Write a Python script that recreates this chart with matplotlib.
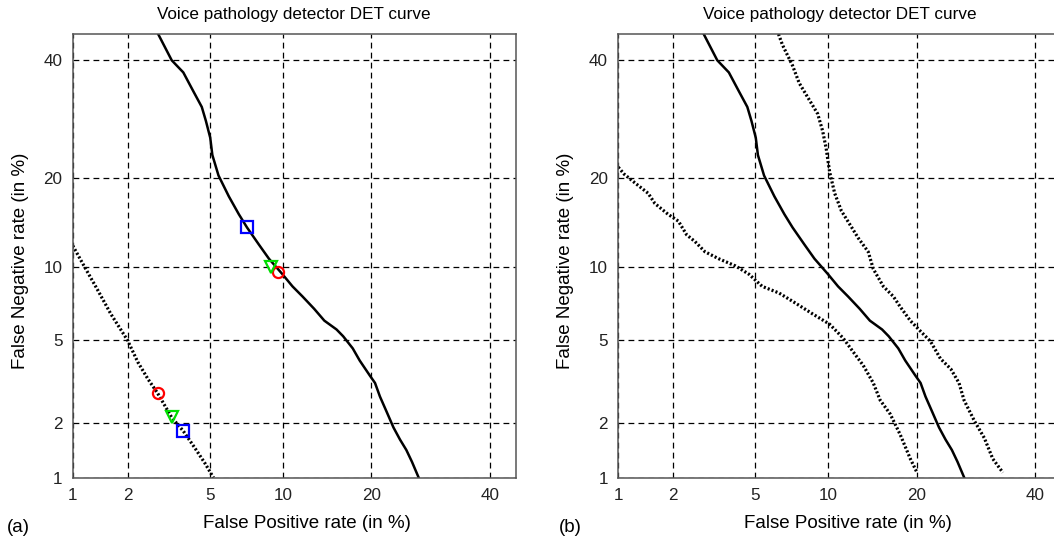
import matplotlib
matplotlib.use('Agg')
import matplotlib.pyplot as plt
import numpy as np
from statistics import NormalDist

plt.rcParams['font.family'] = ['Liberation Sans', 'DejaVu Sans']
plt.rcParams['lines.scale_dashes'] = False

# DET curve data (false positive %, false negative %)
main_fp = [2.86, 3.33, 3.78, 4.21, 4.60, 4.80, 5.02, 5.13, 5.46, 6.05, 6.67, 7.21,
           8.06, 8.83, 9.96, 10.86, 11.82, 13.0, 14.1, 15.5, 16.3, 17.5, 18.4, 19.8,
           20.5, 21.2, 22.2, 23.2, 24.2, 25.2, 26.1, 27.2]
main_fn = [45.0, 39.9, 37.6, 34.1, 31.3, 28.9, 26.1, 23.4, 20.4, 17.6, 15.4, 13.9,
           12.1, 10.75, 9.39, 8.42, 7.67, 6.83, 6.09, 5.58, 5.21, 4.60, 4.05, 3.43,
           3.17, 2.72, 2.27, 1.89, 1.63, 1.43, 1.23, 1.0]

fused_fp = [1.0, 1.16, 1.38, 1.63, 2.0, 2.26, 2.55, 2.84, 3.33, 3.78, 4.29, 4.77, 5.19]
fused_fn = [12.0, 10.1, 8.16, 6.50, 5.0, 3.98, 3.30, 2.83, 2.13, 1.81, 1.46, 1.20, 1.0]

# operating points: circle, triangle, square
main_pts_fp = [9.61, 8.96, 7.21]
main_pts_fn = [9.59, 10.04, 13.9]
fused_pts_fp = [2.84, 3.33, 3.78]
fused_pts_fn = [2.83, 2.15, 1.81]

upper_fp = [6.30, 6.55, 7.21, 7.68, 8.44, 9.09, 9.50, 9.80, 10.1, 10.55, 11.17, 11.98,
            12.84, 13.92, 14.48, 15.65, 16.88, 17.75, 19.08, 20.47, 21.92, 23.42,
            25.02, 26.34, 27.16, 28.88, 30.61, 32.09, 33.91]
upper_fn = [45.0, 42.86, 38.9, 35.6, 32.5, 30.1, 27.2, 24.4, 20.9, 18.0, 15.8, 14.25,
            12.78, 11.39, 9.84, 8.42, 7.67, 6.96, 6.09, 5.49, 4.95, 4.13, 3.70, 3.17,
            2.61, 2.05, 1.66, 1.28, 1.07]

lower_fp = [1.0, 1.08, 1.24, 1.47, 1.60, 1.88, 2.13, 2.35, 2.59, 2.90, 3.38, 4.06,
            4.68, 5.36, 6.34, 7.45, 8.69, 10.1, 11.33, 12.32, 13.38, 14.48, 15.27,
            16.48, 17.75, 19.08, 20.0]
lower_fn = [21.6, 20.6, 19.4, 18.0, 16.7, 15.4, 14.6, 13.1, 12.4, 11.4, 10.75, 10.1,
            9.39, 8.42, 7.92, 7.19, 6.50, 5.88, 5.12, 4.44, 3.84, 3.17, 2.61, 2.22,
            1.73, 1.28, 1.07]

tick_vals = [1, 2, 5, 10, 20, 40]
tick_labels = ['1', '2', '5', '10', '20', '40']

nd = NormalDist()
_ppf = np.vectorize(nd.inv_cdf, otypes=[float])
_cdf = np.vectorize(nd.cdf, otypes=[float])


def probit(p):
    p = np.clip(np.asarray(p, dtype=float) / 100.0, 1e-9, 1 - 1e-9)
    return _ppf(p)


def inv_probit(z):
    return _cdf(np.asarray(z, dtype=float)) * 100.0


def setup_axes(ax, xlab_x):
    ax.set_xscale('function', functions=(probit, inv_probit))
    ax.set_yscale('function', functions=(probit, inv_probit))
    ax.set_xlim(1, 45)
    ax.set_ylim(1, 45)
    ax.set_xticks(tick_vals)
    ax.set_xticklabels(tick_labels)
    ax.set_yticks(tick_vals)
    ax.set_yticklabels(tick_labels)
    ax.minorticks_off()
    ax.tick_params(length=0, labelsize=12.3, pad=7.5, colors='#222222')
    ax.grid(True, color='black', linestyle=(0, (4.2, 3.0)), linewidth=0.9)
    for s in ax.spines.values():
        s.set_color('#555555')
        s.set_linewidth(1.1)
        s.set_zorder(5)
    ax.set_title('Voice pathology detector DET curve', fontsize=12.3, pad=11)
    ax.set_xlabel('False Positive rate (in %)', fontsize=13.5)
    ax.set_ylabel('False Negative rate (in %)', fontsize=13.5)
    ax.xaxis.set_label_coords(xlab_x, -0.083)
    ax.yaxis.set_label_coords(-0.099, 0.49)


fig = plt.figure(figsize=(10.54, 5.42), dpi=100)
ax1 = fig.add_axes([0.069, 0.1186, 0.4201, 0.8186])
ax2 = fig.add_axes([0.5866, 0.1186, 0.4201, 0.8186])

dots = (0, (1.5, 1.5))

# panel (a)
ax1.plot(main_fp, main_fn, color='black', linewidth=1.8)
ax1.plot(fused_fp, fused_fn, color='black', linewidth=2.3, linestyle=dots)
for fp, fn in [(main_pts_fp, main_pts_fn), (fused_pts_fp, fused_pts_fn)]:
    ax1.plot(fp[0], fn[0], 'o', mfc='none', mec='red', ms=8, mew=1.6)
    ax1.plot(fp[1], fn[1], 'v', mfc='none', mec='#00dd00', ms=9, mew=1.6)
    ax1.plot(fp[2], fn[2], 's', mfc='none', mec='blue', ms=8, mew=1.6)
setup_axes(ax1, 0.528)

# panel (b)
ax2.plot(main_fp, main_fn, color='black', linewidth=1.8)
ax2.plot(upper_fp, upper_fn, color='black', linewidth=2.3, linestyle=dots)
ax2.plot(lower_fp, lower_fn, color='black', linewidth=2.3, linestyle=dots)
setup_axes(ax2, 0.519)

fig.text(7 / 1054, 1 - 532 / 542, '(a)', fontsize=13.5, va='baseline')
fig.text(559 / 1054, 1 - 532 / 542, '(b)', fontsize=13.5, va='baseline')

fig.savefig('out.png', dpi=100)
